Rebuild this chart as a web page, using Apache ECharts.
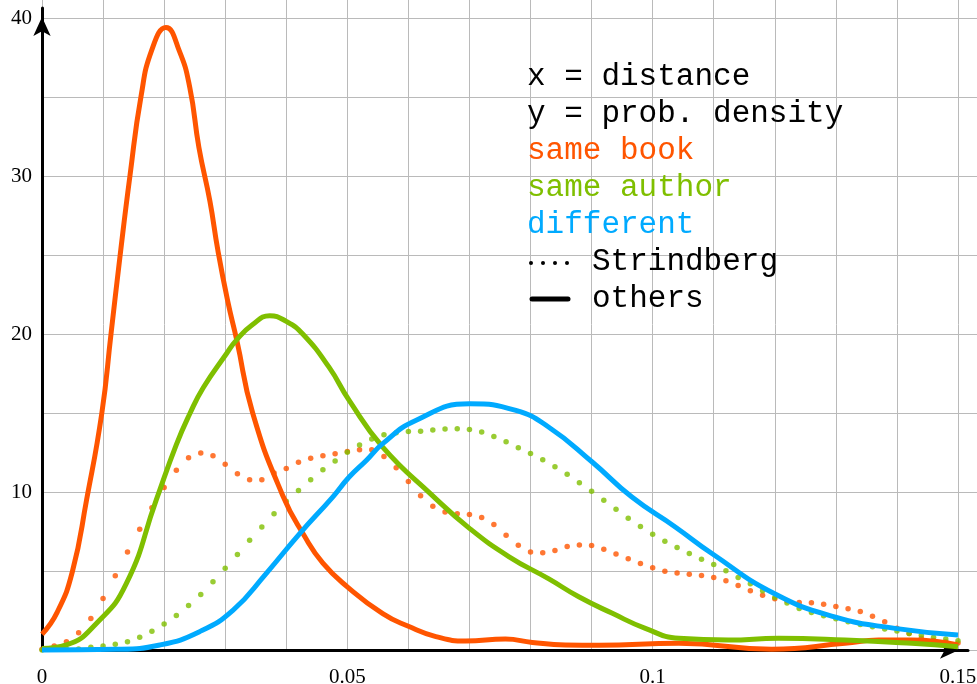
<!doctype html>
<html><head><meta charset="utf-8" />
<style>
  html,body,#app{margin:0;padding:0;width:977px;height:684px;background:#ffffff}
</style>
</head><body><div id="app"></div>
<script src="https://cdn.jsdelivr.net/npm/echarts@6/dist/echarts.min.js"></script>
<script>
// solid curves ("others")
const bookX   = [0, 0.0025, 0.005, 0.0073, 0.0098, 0.0113, 0.0128, 0.0144, 0.0162, 0.018, 0.0203, 0.0225, 0.0242, 0.0257, 0.0275, 0.0288, 0.0304, 0.0319, 0.0345, 0.0394, 0.043, 0.046, 0.050, 0.0558, 0.060, 0.0645, 0.0694, 0.0759, 0.0803, 0.0857, 0.0912, 0.1043, 0.1195, 0.1315, 0.137, 0.1424, 0.15];
const bookY   = [1.0, 2.4, 5.0, 9.5, 15.0, 20.0, 25.0, 30.0, 35.0, 38.0, 39.4, 37.9, 35.6, 31.8, 28.4, 25.3, 22.1, 19.6, 15.0, 9.8, 7.2, 5.5, 4.0, 2.3, 1.5, 0.85, 0.57, 0.69, 0.48, 0.32, 0.3, 0.42, 0.05, 0.42, 0.63, 0.63, 0.32];
const authorX = [0, 0.004, 0.0089, 0.0138, 0.0187, 0.022, 0.0242, 0.0264, 0.0302, 0.0318, 0.0345, 0.0373, 0.040, 0.0427, 0.047, 0.0503, 0.0558, 0.0639, 0.070, 0.0765, 0.083, 0.0879, 0.0934, 0.0988, 0.1043, 0.1124, 0.1206, 0.1315, 0.1424, 0.15];
const authorY = [0.1, 0.32, 1.68, 4.2, 9.48, 13.0, 14.95, 16.6, 18.75, 19.6, 20.6, 21.16, 20.8, 20.0, 17.9, 15.8, 12.84, 9.79, 7.7, 5.9, 4.5, 3.37, 2.32, 1.37, 0.74, 0.63, 0.74, 0.63, 0.42, 0.21];
const diffX   = [0, 0.0122, 0.0193, 0.0258, 0.0313, 0.0367, 0.0422, 0.0476, 0.0503, 0.0531, 0.0558, 0.0612, 0.070, 0.0776, 0.083, 0.0901, 0.0966, 0.1037, 0.1097, 0.1199, 0.1298, 0.1397, 0.15];
const diffY   = [0, 0.04, 0.32, 1.16, 2.53, 4.84, 7.37, 9.68, 10.95, 12.0, 13.06, 14.53, 15.58, 15.16, 14.1, 11.9, 9.68, 7.79, 6.11, 3.58, 2.1, 1.37, 0.95];

// dotted curves ("Strindberg"), one dot every 0.002
const dotX = [0, 0.002, 0.004, 0.006, 0.008, 0.010, 0.012, 0.014, 0.016, 0.018, 0.020, 0.022, 0.024, 0.026, 0.028, 0.030, 0.032, 0.034, 0.036, 0.038,
  0.040, 0.042, 0.044, 0.046, 0.048, 0.050, 0.052, 0.054, 0.056, 0.058, 0.060, 0.062, 0.064, 0.066, 0.068, 0.070, 0.072, 0.074, 0.076, 0.078,
  0.080, 0.082, 0.084, 0.086, 0.088, 0.090, 0.092, 0.094, 0.096, 0.098, 0.100, 0.102, 0.104, 0.106, 0.108, 0.110, 0.112, 0.114, 0.116, 0.118,
  0.120, 0.122, 0.124, 0.126, 0.128, 0.130, 0.132, 0.134, 0.136, 0.138, 0.140, 0.142, 0.144, 0.146, 0.148, 0.150];
const strBookY = [0.05, 0.25, 0.53, 1.09, 2.0, 3.26, 4.7, 6.21, 7.64, 9.01, 10.28, 11.37, 12.17, 12.47, 12.3, 11.75, 11.16, 10.78, 10.78, 11.2,
  11.48, 11.88, 12.13, 12.3, 12.42, 12.57, 12.68, 12.68, 12.25, 11.54, 10.66, 9.77, 9.1, 8.74, 8.63, 8.57, 8.38, 7.94, 7.26, 6.63,
  6.21, 6.15, 6.3, 6.55, 6.65, 6.61, 6.38, 6.08, 5.77, 5.47, 5.2, 4.99, 4.88, 4.8, 4.72, 4.59, 4.38, 4.09, 3.75, 3.46,
  3.24, 3.11, 3.01, 2.99, 2.89, 2.76, 2.61, 2.44, 2.13, 1.79, 1.37, 1.05, 0.74, 0.6, 0.52, 0.45];
const strAuthorY = [0.0, 0.06, 0.06, 0.06, 0.17, 0.25, 0.36, 0.53, 0.8, 1.18, 1.64, 2.19, 2.82, 3.52, 4.32, 5.18, 6.04, 6.95, 7.79, 8.63,
  9.41, 10.1, 10.78, 11.41, 11.96, 12.51, 12.97, 13.35, 13.62, 13.75, 13.83, 13.85, 13.92, 13.98, 14.0, 13.96, 13.79, 13.52, 13.18, 12.8,
  12.44, 12.04, 11.6, 11.12, 10.59, 10.04, 9.48, 8.91, 8.34, 7.81, 7.33, 6.89, 6.49, 6.11, 5.75, 5.41, 5.01, 4.59, 4.19, 3.75,
  3.33, 2.97, 2.63, 2.38, 2.17, 1.98, 1.79, 1.62, 1.47, 1.33, 1.2, 1.05, 0.93, 0.8, 0.69, 0.59];

const legendLines = ['x = distance', 'y = prob. density', 'same book', 'same author', 'different'];

const ORANGE = '#FF5500', GREEN = '#7FBF00', BLUE = '#00AAFF';
const zip = (xs, ys) => xs.map((x, i) => [x, ys[i]]);

const chart = echarts.init(document.getElementById('app'));
const serif = '"Liberation Serif", "DejaVu Serif", serif';
const mono = '"Liberation Mono", "DejaVu Sans Mono", monospace';
const legendColors = ['#000', '#000', ORANGE, GREEN, BLUE];

const graphics = legendLines.map((t, i) => ({
  type: 'text', left: 527, top: 61 + 37 * i, z: 10,
  style: { text: t, fill: legendColors[i], font: '31px ' + mono }
}));
[531, 543, 555, 567].forEach(cx => graphics.push({ type: 'circle', shape: { cx: cx, cy: 263, r: 2 }, style: { fill: '#000' }, z: 10 }));
graphics.push({ type: 'line', shape: { x1: 532, y1: 299, x2: 568, y2: 299 }, style: { stroke: '#000', lineWidth: 5, lineCap: 'round' }, z: 10 });
graphics.push({ type: 'text', left: 592, top: 246, z: 10, style: { text: 'Strindberg', fill: '#000', font: '31px ' + mono } });
graphics.push({ type: 'text', left: 592, top: 283, z: 10, style: { text: 'others', fill: '#000', font: '31px ' + mono } });

const option = {
  backgroundColor: '#ffffff',
  animation: false,
  grid: [
    { left: 42, right: 9, top: 8, bottom: 34, outerBoundsMode: 'none', containLabel: false },
    { left: 42, right: -2, top: -2, bottom: 34, outerBoundsMode: 'none', containLabel: false }
  ],
  xAxis: [
    { type: 'value', gridIndex: 0, min: 0, max: 0.15164, interval: 0.05,
      axisLine: { lineStyle: { color: '#000', width: 3 }, symbol: ['none', 'arrow'], symbolSize: [13, 19], symbolOffset: [0, -9] },
      axisTick: { show: false }, splitLine: { show: false },
      axisLabel: { margin: 17, color: '#000', fontSize: 21, fontFamily: serif,
        formatter: v => v > 0.1501 ? '' : String(+v.toFixed(2)) } },
    { type: 'value', gridIndex: 1, min: 0, max: 0.15344, interval: 0.01,
      axisLine: { show: false }, axisTick: { show: false }, axisLabel: { show: false },
      splitLine: { lineStyle: { color: '#bababa', width: 1 } } }
  ],
  yAxis: [
    { type: 'value', gridIndex: 0, min: 0, max: 40.633, interval: 10,
      axisLine: { show: true, lineStyle: { color: '#000', width: 3 }, symbol: ['none', 'arrow'], symbolSize: [13, 19], symbolOffset: [0, -9] },
      axisTick: { show: false }, splitLine: { show: false },
      axisLabel: { margin: 10, color: '#000', fontSize: 21, fontFamily: serif, padding: [14, 0, 0, 0],
        formatter: v => (v === 0 || v > 40.01) ? '' : String(v) } },
    { type: 'value', gridIndex: 1, min: 0, max: 41.266, interval: 5,
      axisLine: { show: false }, axisTick: { show: false }, axisLabel: { show: false },
      splitLine: { lineStyle: { color: '#bababa', width: 1 } } }
  ],
  graphic: graphics,
  series: [
    { name: 'same book (Strindberg)', type: 'scatter', data: zip(dotX, strBookY), symbolSize: 5.5, itemStyle: { color: ORANGE }, clip: false },
    { name: 'same author (Strindberg)', type: 'scatter', data: zip(dotX, strAuthorY), symbolSize: 5.5, itemStyle: { color: GREEN }, clip: false },
    { name: 'same book', type: 'line', data: zip(bookX, bookY), smooth: 0.5, showSymbol: false, clip: false, lineStyle: { color: ORANGE, width: 5 } },
    { name: 'same author', type: 'line', data: zip(authorX, authorY), smooth: 0.5, showSymbol: false, clip: false, lineStyle: { color: GREEN, width: 5 } },
    { name: 'different', type: 'line', data: zip(diffX, diffY), smooth: 0.5, showSymbol: false, clip: false, lineStyle: { color: BLUE, width: 5 } }
  ]
};
chart.setOption(option);
window.chartReady = true;
</script></body></html>
